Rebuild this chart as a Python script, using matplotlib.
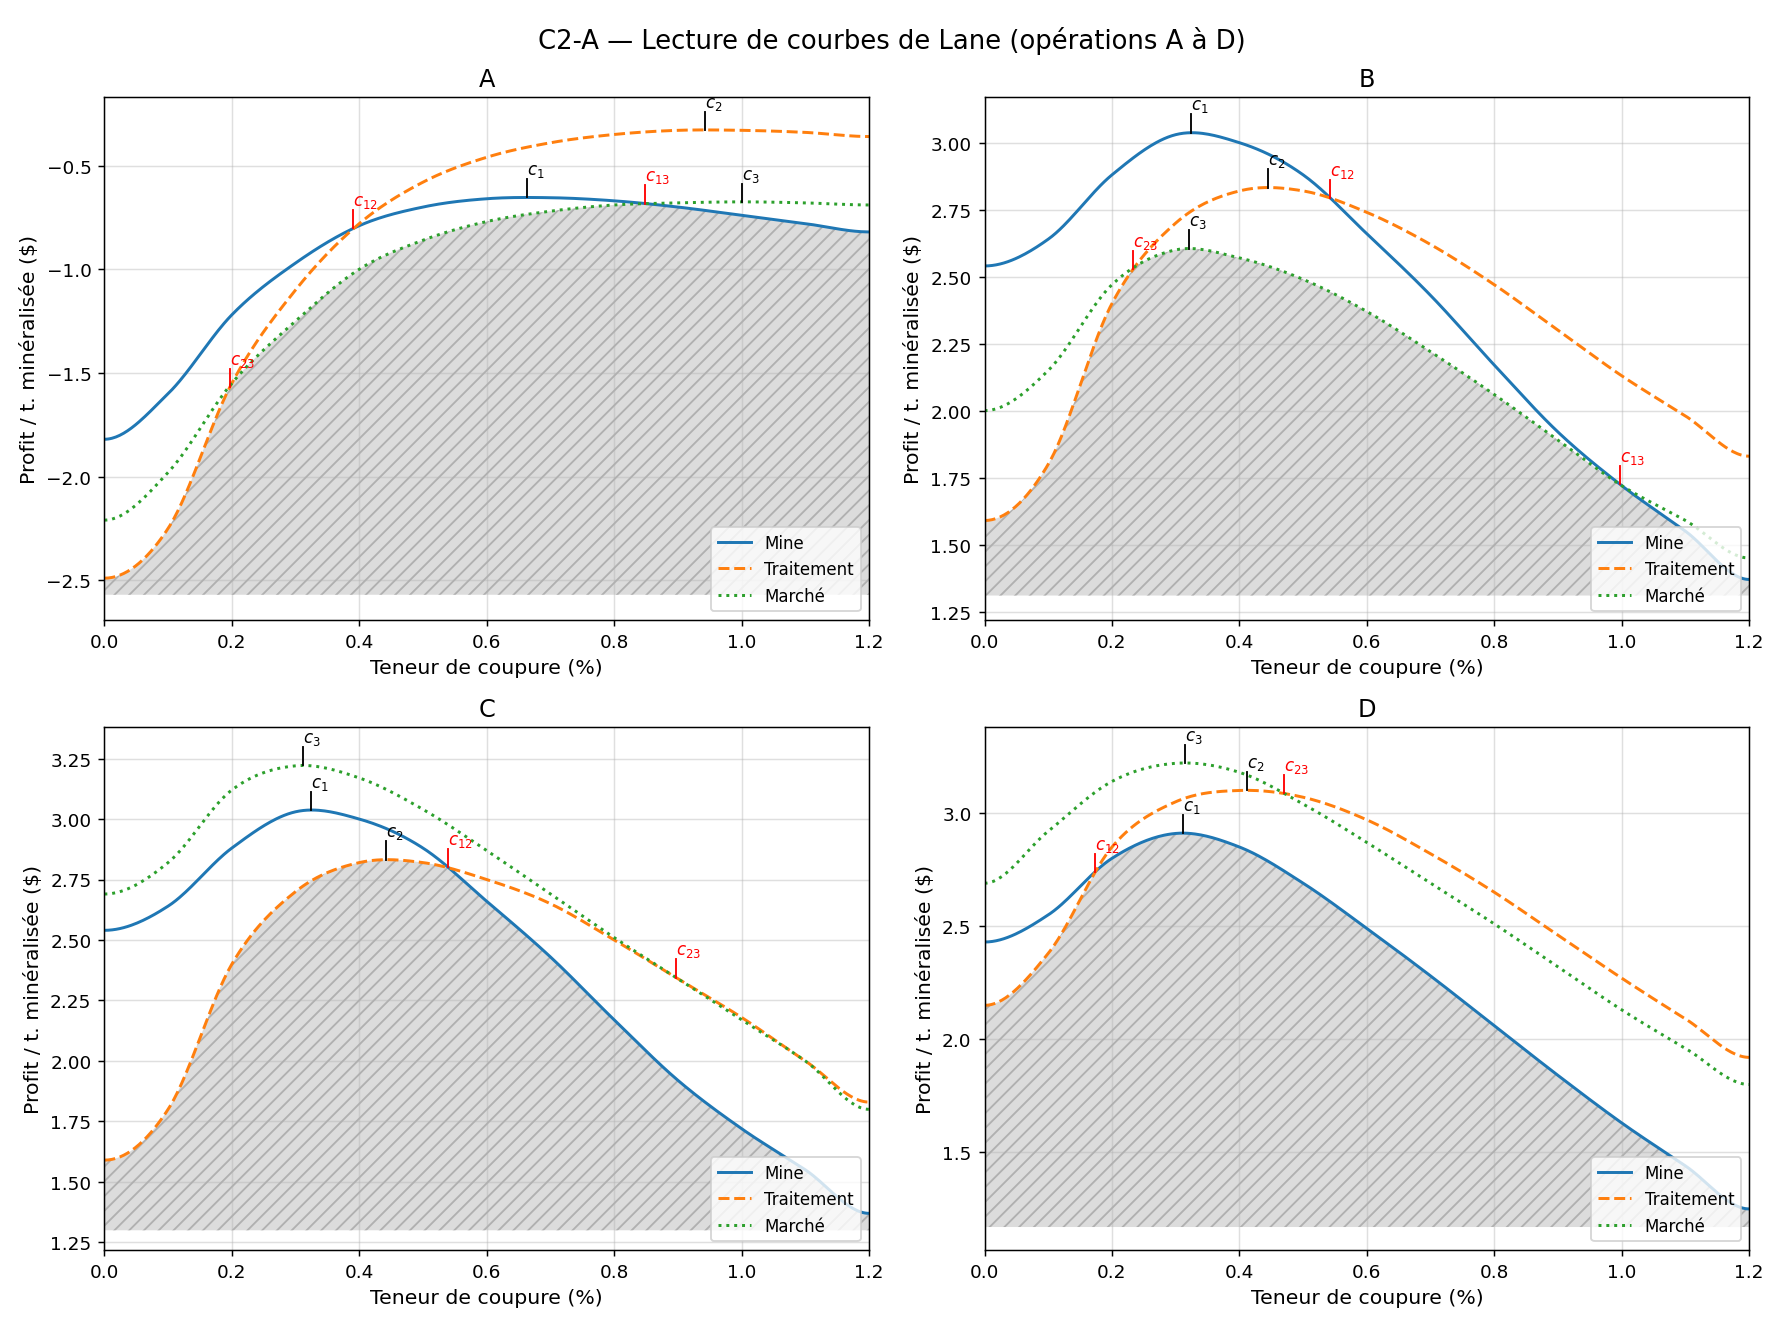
import matplotlib
matplotlib.use("Agg")
import matplotlib.pyplot as plt
import numpy as np

GRADES = [0.0, 0.1, 0.2, 0.3, 0.4, 0.5, 0.6, 0.7, 0.8, 0.9, 1.0, 1.1, 1.2]

MINE_A = [-1.82, -1.60, -1.22, -0.97, -0.79, -0.70, -0.66, -0.655, -0.67, -0.70, -0.74, -0.78, -0.82]
TRAIT_A = [-2.49, -2.25, -1.55, -1.10, -0.78, -0.58, -0.46, -0.39, -0.35, -0.33, -0.33, -0.34, -0.36]
MARCHE_A = [-2.21, -1.98, -1.55, -1.25, -1.00, -0.86, -0.77, -0.72, -0.69, -0.68, -0.675, -0.68, -0.69]

MINE_B = [2.54, 2.64, 2.88, 3.03, 3.00, 2.88, 2.66, 2.43, 2.17, 1.92, 1.72, 1.55, 1.37]
TRAIT_B = [1.59, 1.80, 2.40, 2.70, 2.82, 2.82, 2.74, 2.62, 2.47, 2.30, 2.13, 1.98, 1.83]
MARCHE_B = [2.00, 2.15, 2.47, 2.60, 2.57, 2.49, 2.37, 2.22, 2.06, 1.89, 1.72, 1.59, 1.45]

MINE_C = MINE_B
TRAIT_C = [1.59, 1.80, 2.40, 2.70, 2.82, 2.82, 2.75, 2.65, 2.50, 2.34, 2.18, 2.00, 1.83]
MARCHE_C = [2.69, 2.82, 3.12, 3.22, 3.17, 3.04, 2.87, 2.69, 2.51, 2.34, 2.17, 2.00, 1.80]

MINE_D = [2.43, 2.55, 2.80, 2.91, 2.85, 2.69, 2.49, 2.28, 2.06, 1.84, 1.63, 1.44, 1.25]
TRAIT_D = [2.15, 2.38, 2.85, 3.05, 3.10, 3.07, 2.97, 2.82, 2.65, 2.46, 2.27, 2.09, 1.92]
MARCHE_D = [2.69, 2.92, 3.14, 3.22, 3.18, 3.04, 2.87, 2.69, 2.51, 2.32, 2.13, 1.96, 1.80]

PANELS = [
    ("A", MINE_A, TRAIT_A, MARCHE_A, -2.57, (-2.69, -0.17)),
    ("B", MINE_B, TRAIT_B, MARCHE_B, 1.31, (1.22, 3.17)),
    ("C", MINE_C, TRAIT_C, MARCHE_C, 1.30, (1.22, 3.38)),
    ("D", MINE_D, TRAIT_D, MARCHE_D, 1.17, (1.07, 3.38)),
]


def smooth(xs, ys, n=400):
    """Catmull-Rom spline through the read points."""
    xs = np.asarray(xs, float)
    ys = np.asarray(ys, float)
    px = np.concatenate([[2 * xs[0] - xs[1]], xs, [2 * xs[-1] - xs[-2]]])
    py = np.concatenate([[ys[1]], ys, [ys[-2]]])
    out_x, out_y = [], []
    m = n // (len(xs) - 1)
    for i in range(1, len(xs)):
        t = np.linspace(0, 1, m, endpoint=(i == len(xs) - 1))
        p0, p1, p2, p3 = py[i - 1], py[i], py[i + 1], py[i + 2]
        y = 0.5 * (2 * p1 + (-p0 + p2) * t + (2 * p0 - 5 * p1 + 4 * p2 - p3) * t**2
                   + (-p0 + 3 * p1 - 3 * p2 + p3) * t**3)
        out_x.append(px[i] + (px[i + 1] - px[i]) * t)
        out_y.append(y)
    return np.concatenate(out_x), np.concatenate(out_y)


def crossing(x, a, b):
    d = a - b
    idx = np.where(np.diff(np.sign(d)) != 0)[0]
    idx = idx[(x[idx] > 0.05) & (x[idx] < 1.15)]
    return int(idx[0]) if len(idx) else None


def mark(ax, x, y, label, color, span):
    h = span * 0.035
    ax.plot([x, x], [y, y + h], color=color, lw=1)
    ax.text(x, y + h, label, color=color, fontsize=9 if color == "black" else 9,
            ha="left", va="bottom")


fig, axes = plt.subplots(2, 2, figsize=(13.38, 9.96), dpi=133.33)
fig.suptitle("C2-A — Lecture de courbes de Lane (opérations A à D)", fontsize=14)

for ax, (name, mine, trait, marche, base, ylim) in zip(axes.flat, PANELS):
    x, ym = smooth(GRADES, mine)
    _, yt = smooth(GRADES, trait)
    _, yk = smooth(GRADES, marche)
    low = np.minimum(np.minimum(ym, yt), yk)
    ax.fill_between(x, base, low, facecolor="#dcdcdc", edgecolor="#b0b0b0",
                    hatch="///", lw=0)
    ax.plot(x, ym, color="#1f77b4", lw=1.6, label="Mine")
    ax.plot(x, yt, color="#ff7f0e", lw=1.6, ls="--", label="Traitement")
    ax.plot(x, yk, color="#2ca02c", lw=1.6, ls=":", label="Marché")
    span = ylim[1] - ylim[0]
    for y, lab in ((ym, "$c_1$"), (yt, "$c_2$"), (yk, "$c_3$")):
        i = int(np.argmax(y))
        mark(ax, x[i], y[i], lab, "black", span)
    for a, b, lab in ((ym, yt, "$c_{12}$"), (ym, yk, "$c_{13}$"), (yt, yk, "$c_{23}$")):
        i = crossing(x, a, b)
        if i is not None:
            mark(ax, x[i], a[i], lab, "red", span)
    ax.set_xlim(0, 1.2)
    ax.set_ylim(*ylim)
    ax.set_title(name, fontsize=13)
    ax.set_xlabel("Teneur de coupure (%)", fontsize=11)
    ax.set_ylabel("Profit / t. minéralisée ($)", fontsize=11)
    ax.grid(True, alpha=0.4)
    ax.legend(loc="lower right", fontsize=9)

fig.tight_layout()
fig.savefig("out.png")
